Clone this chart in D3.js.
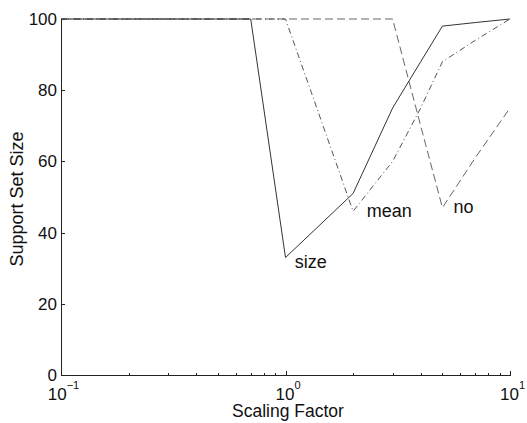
<!doctype html>
<meta charset="utf-8">
<style>
body { margin: 0; background: #fff; }
text { font-family: "Liberation Sans", Arial, sans-serif; fill: #111; }
.axis path, .axis line { stroke: #222; shape-rendering: crispEdges; }
</style>
<body>
<div id="viz"></div>
<script src="https://cdnjs.cloudflare.com/ajax/libs/d3/7.8.5/d3.min.js"></script>
<script>
// data
var scaleX   = [0.1, 0.2, 0.3, 0.5, 0.7, 1, 2, 3, 4, 5, 7, 10];
var sizeVals = [100, 100, 100, 100, 100, 33, 51, 75, 88, 98, 99, 100];
var meanVals = [100, 100, 100, 100, 100, 100, 46, 60, 75, 88, 94, 100];
var noVals   = [100, 100, 100, 100, 100, 100, 100, 100, 70, 47, 61, 75];
var yTicks = [0, 20, 40, 60, 80, 100];
var xMajor = [0.1, 1, 10];
var xExp = ["\u22121", "0", "1"];

var W = 527, H = 423;
var svg = d3.select("#viz").append("svg").attr("width", W).attr("height", H);

var x = d3.scaleLog().domain([0.1, 10]).range([61, 510]);
var y = d3.scaleLinear().domain([0, 100]).range([375, 19]);

// minor ticks
var xMinor = [];
[0.1, 1].forEach(function(d) { for (var k = 2; k < 10; k++) xMinor.push(d * k); });
var gm = svg.append("g").attr("class", "axis").attr("transform", "translate(0,375)")
  .call(d3.axisBottom(x).tickValues(xMinor).tickSize(-2).tickSizeOuter(0).tickFormat(""));
gm.select(".domain").remove();
gm.selectAll("text").remove();

var gx = svg.append("g").attr("class", "axis").attr("transform", "translate(0,375)")
  .call(d3.axisBottom(x).tickValues(xMajor).tickSize(-4).tickSizeOuter(0).tickFormat(""));
gx.selectAll("text").remove();
gx.selectAll(".tick").each(function(d, i) {
  var t = d3.select(this).append("text").attr("y", 25).attr("x", 2).attr("text-anchor", "middle")
    .style("font-size", "17px");
  t.append("tspan").text("10");
  t.append("tspan").attr("dy", -11).style("font-size", "11px").text(xExp[i]);
});

var gy = svg.append("g").attr("class", "axis").attr("transform", "translate(61,0)")
  .call(d3.axisLeft(y).tickValues(yTicks).tickSize(-4).tickSizeOuter(0).tickPadding(4));
gy.selectAll("text").style("font-size", "17px").attr("fill", "#111");

var line = d3.line().x(function(d) { return x(d[0]); }).y(function(d) { return y(d[1]); });
function series(vals, color, dash) {
  svg.append("path").datum(d3.zip(scaleX, vals)).attr("d", line)
    .attr("fill", "none").attr("stroke", color).attr("stroke-width", 1)
    .attr("stroke-dasharray", dash);
}
series(noVals, "#666", "8,4");
series(meanVals, "#555", "6,3,1,3");
series(sizeVals, "#333", null);

// curve labels
var labels = [["size", 1.1, 30], ["mean", 2.3, 44.3], ["no", 5.6, 45.6]];
labels.forEach(function(l) {
  svg.append("text").attr("x", x(l[1])).attr("y", y(l[2])).style("font-size", "18px").text(l[0]);
});

svg.append("text").attr("x", 288).attr("y", 417).attr("text-anchor", "middle")
  .style("font-size", "17.5px").text("Scaling Factor");
svg.append("text").attr("transform", "translate(23,199) rotate(-90)").attr("text-anchor", "middle")
  .style("font-size", "18px").text("Support Set Size");
</script>
</body>
